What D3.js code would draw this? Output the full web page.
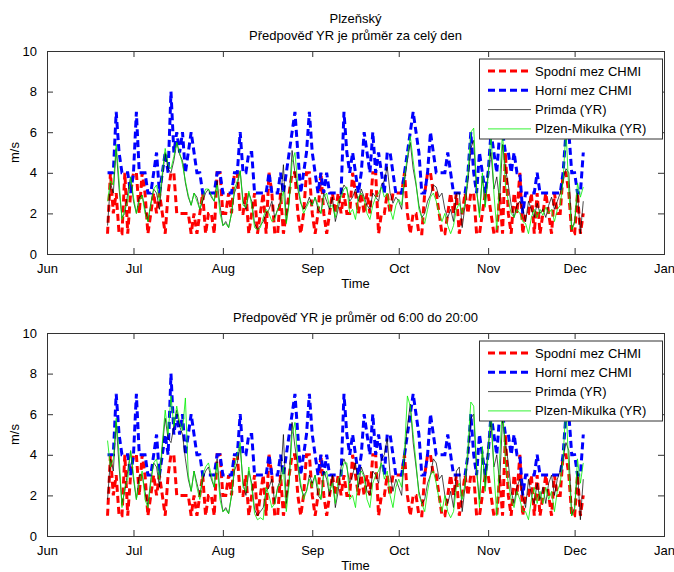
<!DOCTYPE html>
<html>
<head>
<meta charset="utf-8">
<script src="https://cdn.jsdelivr.net/npm/d3@7"></script>
<style>
  body { margin: 0; background: #fff; }
  text { font-family: "Liberation Sans", Arial, sans-serif; font-size: 13px; fill: #000; }
</style>
</head>
<body>
<div class="container"></div>
<script>
var svgWidth = 674;
var svgHeight = 572;

// first forecast day, one value per day after that
var startDate = new Date(2013, 5, 22);
var monthLabels = ["Jun", "Jul", "Aug", "Sep", "Oct", "Nov", "Dec", "Jan"];
var yTicks = [0, 2, 4, 6, 8, 10];
var legendLabels = ["Spodní mez CHMI", "Horní mez CHMI", "Primda (YR)", "Plzen-Mikulka (YR)"];

// CHMI lower / upper limit (m/s)
var spodni = [
  1,4,2,3,1,1,4,1,3,4, 4,2,4,3,1,2,3,2,3,2, 1,3,4,4,2,2,2,2,2,1, 2,1,2,3,1,2,2,1,4,4,
  2,2,3,2,4,4,2,2,3,1, 2,3,1,2,3,1,4,3,1,1, 3,1,2,3,4,4,2,1,2,4, 4,2,1,2,4,2,1,2,3,2,
  3,2,3,2,2,4,3,2,3,2, 3,2,4,4,1,2,2,3,2,3, 3,3,3,4,2,1,2,2,1,1, 3,4,4,3,3,2,1,1,2,3,
  2,3,1,2,3,2,3,3,1,1, 2,3,3,2,1,1,3,1,5,2, 1,3,2,4,1,2,2,3,1,3, 1,2,3,2,1,3,2,2,4,4,
  3,1,1,3,1,2
];
var horni = [
  4,4,4,7,5,4,4,4,3,4, 7,4,4,4,3,3,4,5,3,4, 5,4,8,5,6,5,6,4,5,6, 5,4,4,3,3,3,3,3,4,4,
  3,3,3,3,4,4,6,4,4,5, 5,3,3,3,3,3,4,3,3,3, 4,3,4,5,6,7,5,3,4,5, 7,5,4,3,4,3,4,3,3,3,
  3,3,7,5,4,5,4,3,4,6, 5,4,6,4,5,4,3,5,5,4, 3,3,3,4,5,6,7,6,5,3, 3,4,6,5,4,4,4,4,5,4,
  3,3,3,3,3,4,6,4,3,5, 4,3,4,6,5,4,6,6,5,5, 4,5,4,4,2,3,3,3,3,4, 3,3,3,3,3,3,3,3,4,6,
  6,4,4,3,3,5
];

// YR, whole-day average
var primdaDen = [
  1.4,3.5,3.0,5.2,3.2,1.8,2.0,3.0,3.8,2.6, 2.0,2.8,2.9,2.2,1.6,2.5,3.2,3.0,2.2,3.8,
  5.0,4.2,4.0,4.6,5.5,4.9,4.6,3.5,2.8,2.4, 3.0,2.8,2.2,2.6,3.0,3.2,2.8,2.6,3.6,2.4,
  1.4,1.6,1.3,2.0,3.0,3.4,4.1,2.6,2.2,3.0, 2.6,1.5,1.2,1.4,1.6,2.0,2.2,2.6,1.8,2.2,
  2.6,4.4,1.6,2.6,5.1,4.0,3.2,2.5,2.2,2.4, 2.8,2.4,2.8,2.2,2.0,3.0,2.6,2.2,2.8,1.6,
  2.2,3.0,3.4,3.2,2.6,2.8,3.2,2.6,3.2,2.8, 2.4,2.2,3.0,2.8,2.6,3.4,3.6,4.3,3.0,2.5,
  2.8,2.6,2.2,3.6,4.6,5.5,4.2,3.4,2.4,1.8, 2.0,2.6,2.9,3.4,3.3,2.8,3.0,2.2,1.8,2.2,
  1.6,3.0,3.0,1.3,2.4,3.6,5.2,5.6,3.1,2.0, 3.8,2.4,4.0,5.0,3.2,3.8,2.6,5.4,4.2,3.4,
  2.4,1.8,2.4,2.6,2.2,1.6,2.6,2.2,1.8,2.5, 2.0,2.2,1.8,2.4,2.8,2.2,2.6,3.0,3.6,4.2,
  4.0,1.2,1.6,3.0,1.0,2.6
];
var mikulkaDen = [
  2.6,3.6,3.4,5.4,3.6,1.7,2.2,2.6,3.8,2.8, 2.0,2.6,2.9,2.0,1.6,2.4,3.2,3.4,2.6,4.0,
  5.2,4.4,4.2,4.8,5.5,5.0,4.4,3.6,2.9,2.4, 3.0,2.6,2.2,2.8,3.2,3.2,2.9,2.6,3.4,2.0,
  1.4,1.5,1.3,2.0,3.2,3.6,4.1,2.4,2.3,3.1, 2.4,1.3,1.2,1.3,1.8,2.2,2.0,1.6,1.7,2.2,
  2.5,3.1,1.5,2.5,4.5,5.0,3.4,2.6,2.0,2.3, 2.6,2.4,2.8,2.4,2.0,2.8,3.0,2.3,2.4,1.8,
  2.6,2.8,3.2,3.3,2.0,2.2,1.7,2.8,3.0,2.7, 2.0,1.7,2.4,2.8,3.0,3.3,2.8,3.0,2.2,1.7,
  2.4,2.7,2.4,3.8,4.8,5.8,4.6,3.5,2.2,1.8, 1.5,2.2,2.8,3.0,2.6,2.0,1.6,2.0,1.4,1.0,
  1.4,2.2,2.5,2.0,2.5,4.0,6.0,6.2,3.2,1.8, 4.0,2.3,3.8,6.0,3.0,1.2,3.6,6.0,3.4,2.6,
  2.0,1.8,2.2,2.0,1.6,1.5,1.0,1.8,2.2,1.8, 2.2,1.9,2.3,2.0,2.2,1.6,2.2,2.4,3.6,6.2,
  3.0,1.2,1.5,3.5,2.8,3.3
];

// YR, average 6:00 - 20:00
var primdaDenni = [
  1.8,3.8,3.2,5.6,3.4,1.6,2.2,3.2,4.2,2.8, 1.8,3.0,3.0,2.2,1.5,2.8,3.6,3.4,2.4,4.4,
  5.8,4.8,4.6,5.4,6.2,5.4,5.0,3.8,2.8,2.2, 3.2,2.6,2.0,2.8,3.2,3.4,2.8,2.4,3.8,2.2,
  1.2,1.4,1.1,2.0,3.2,3.6,4.4,2.6,2.0,3.2, 2.6,1.3,1.0,1.2,1.4,2.2,2.4,2.8,1.6,2.4,
  2.8,5.0,1.6,2.8,5.6,4.4,3.4,2.4,2.0,2.2, 3.0,2.6,3.0,2.0,1.8,3.2,2.8,2.0,3.0,1.4,
  2.2,3.4,3.8,3.4,2.6,3.0,3.6,2.4,3.4,3.0, 2.2,2.0,3.2,3.0,2.6,3.8,4.0,4.8,3.0,2.2,
  2.8,2.4,2.0,4.0,5.4,6.5,4.6,3.4,2.2,1.6, 1.8,2.6,3.0,3.8,3.6,2.8,3.0,2.0,1.6,2.2,
  1.4,3.2,3.4,1.2,2.4,4.0,5.8,6.0,3.2,1.8, 4.2,2.4,4.4,5.6,3.4,4.0,2.6,5.8,4.6,3.6,
  2.2,1.6,2.4,2.8,2.0,1.4,2.8,2.0,1.6,2.6, 1.8,2.4,1.6,2.6,3.0,2.0,2.8,3.2,3.8,4.6,
  4.2,1.0,1.4,3.2,0.8,2.8
];
var mikulkaDenni = [
  4.7,3.4,3.8,5.8,4.0,1.4,2.4,2.8,4.2,3.0, 1.8,2.6,3.2,1.8,1.4,2.6,3.6,3.8,2.8,4.6,
  6.2,5.0,6.9,5.4,6.4,5.6,5.2,6.8,3.0,2.2, 3.2,2.4,1.8,3.0,3.4,3.6,3.0,2.4,3.6,1.8,
  1.2,1.3,1.1,2.0,3.4,4.0,4.6,2.4,2.2,3.4, 2.4,1.1,0.8,0.9,0.8,2.4,2.0,1.4,1.6,2.4,
  2.6,3.4,1.2,2.6,5.0,5.6,3.6,2.6,1.8,2.2, 2.8,2.4,3.0,2.4,1.8,3.0,3.2,2.2,2.6,1.6,
  2.8,3.0,3.6,3.6,1.8,2.0,1.4,3.0,3.2,2.9, 1.8,1.4,2.6,3.0,3.2,3.6,2.8,3.2,2.0,1.4,
  2.4,2.8,2.4,4.2,6.9,6.4,5.0,3.6,2.0,1.6, 1.2,2.2,3.0,3.2,2.6,1.8,1.2,2.0,1.2,0.9,
  1.2,2.4,2.6,1.8,2.6,4.4,6.6,6.4,3.4,1.4, 4.4,2.2,4.0,6.4,3.2,1.0,3.8,6.6,3.6,2.6,
  1.8,1.4,2.2,1.8,1.2,1.2,0.8,1.8,2.4,1.6, 2.2,1.6,2.4,1.8,2.2,1.2,2.2,2.6,3.8,6.6,
  3.2,1.0,1.3,3.8,2.6,3.6
];

var dates = horni.map((d, i) => d3.timeDay.offset(startDate, i));

var svg = d3.select(".container")
  .append("svg")
  .attr("width", svgWidth)
  .attr("height", svgHeight);

var xScale = d3.scaleTime()
  .domain([new Date(2013, 5, 1), new Date(2014, 0, 1)])
  .range([47, 664]);

var panels = [
  { top: 51, bottom: 254, titles: ["Plzeňský", "Předpověď YR je průměr za celý den"], primda: primdaDen, mikulka: mikulkaDen },
  { top: 333, bottom: 536, titles: ["Předpověď YR je průměr od 6:00 do 20:00"], primda: primdaDenni, mikulka: mikulkaDenni }
];

var series = [
  { key: "spodni", color: "#ff0000", width: 3, dash: "7,4" },
  { key: "horni", color: "#0000ff", width: 3, dash: "7,4" },
  { key: "primda", color: "#000000", width: 0.7, dash: null },
  { key: "mikulka", color: "#00f000", width: 0.8, dash: null }
];

panels.forEach(function(p, pi) {
  var yScale = d3.scaleLinear().domain([0, 10]).range([p.bottom, p.top]);
  var g = svg.append("g");
  var left = xScale.range()[0], right = xScale.range()[1];

  g.append("clipPath").attr("id", "clip" + pi)
    .append("rect")
    .attr("x", left).attr("y", p.top)
    .attr("width", right - left).attr("height", p.bottom - p.top);

  var values = { spodni: spodni, horni: horni, primda: p.primda, mikulka: p.mikulka };
  var line = d3.line()
    .x((d, i) => xScale(dates[i]))
    .y(d => yScale(d));

  var lines = g.append("g").attr("clip-path", "url(#clip" + pi + ")");
  series.forEach(function(s) {
    lines.append("path")
      .datum(values[s.key])
      .attr("d", line)
      .attr("fill", "none")
      .attr("stroke", s.color)
      .attr("stroke-width", s.width)
      .attr("stroke-dasharray", s.dash);
  });

  // axes box with inward ticks
  var monthTicks = d3.timeMonth.range(new Date(2013, 5, 1), new Date(2014, 0, 2));
  var bottomAxis = d3.axisBottom(xScale).tickValues(monthTicks)
    .tickFormat((d, i) => monthLabels[i]).tickSizeInner(-6).tickSizeOuter(0).tickPadding(10);
  var topAxis = d3.axisTop(xScale).tickValues(monthTicks)
    .tickFormat("").tickSizeInner(-6).tickSizeOuter(0);
  var leftAxis = d3.axisLeft(yScale).tickValues(yTicks)
    .tickSizeInner(-6).tickSizeOuter(0).tickPadding(10);
  var rightAxis = d3.axisRight(yScale).tickValues(yTicks)
    .tickFormat("").tickSizeInner(-6).tickSizeOuter(0);

  [[bottomAxis, "translate(0," + p.bottom + ")"],
   [topAxis, "translate(0," + p.top + ")"],
   [leftAxis, "translate(" + left + ",0)"],
   [rightAxis, "translate(" + right + ",0)"]].forEach(function(a) {
    var ax = g.append("g").attr("transform", a[1]).call(a[0]);
    ax.select(".domain").remove();
    ax.selectAll("line").attr("stroke", "#333");
    ax.selectAll("text").attr("font-size", 13).attr("font-family", "Liberation Sans, Arial, sans-serif").attr("fill", "#000");
  });

  g.append("rect")
    .attr("x", left + 0.5).attr("y", p.top + 0.5)
    .attr("width", right - left).attr("height", p.bottom - p.top)
    .attr("fill", "none").attr("stroke", "#333").attr("stroke-width", 1);

  // titles
  p.titles.forEach(function(t, i) {
    g.append("text")
      .attr("x", (left + right) / 2)
      .attr("y", p.top - 11 - (p.titles.length - 1 - i) * 17)
      .attr("text-anchor", "middle")
      .text(t);
  });

  g.append("text")
    .attr("x", (left + right) / 2)
    .attr("y", p.bottom + 34)
    .attr("text-anchor", "middle")
    .text("Time");

  g.append("text")
    .attr("transform", "translate(19," + (p.top + p.bottom) / 2 + ") rotate(-90)")
    .attr("text-anchor", "middle")
    .text("m/s");

  // legend
  var lg = g.append("g").attr("transform", "translate(479," + (p.top + 7.5) + ")");
  lg.append("rect")
    .attr("x", 0.5).attr("y", 0.5)
    .attr("width", 183).attr("height", 80)
    .attr("fill", "#fff").attr("stroke", "#333");
  series.forEach(function(s, i) {
    var ly = 12.5 + i * 19.3;
    lg.append("line")
      .attr("x1", 9).attr("x2", 52)
      .attr("y1", ly).attr("y2", ly)
      .attr("stroke", s.color)
      .attr("stroke-width", s.width)
      .attr("stroke-dasharray", s.dash);
    lg.append("text")
      .attr("x", 56).attr("y", ly + 4.5)
      .text(legendLabels[i]);
  });
});
</script>
</body>
</html>
